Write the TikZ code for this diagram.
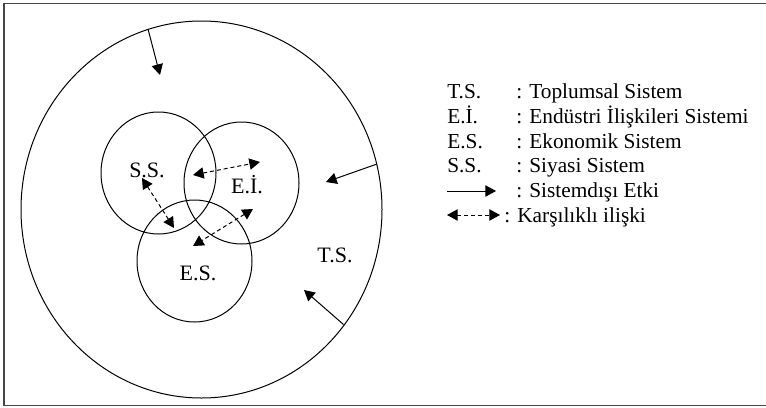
\documentclass[tikz,border=0pt]{standalone}
\usepackage{fontspec}
\setmainfont{Liberation Serif}
\usetikzlibrary{arrows.meta}

\tikzset{
  etki/.style={-{Triangle[length=8pt,width=8.5pt]}, line width=0.75pt},
  iliski/.style={{Triangle[length=8pt,width=8.5pt]}-{Triangle[length=8pt,width=8.5pt]}, dash pattern={on 3pt off 2.2pt}, line width=0.75pt},
  etiket/.style={font=\fontsize{16.5}{18}\selectfont, inner sep=0.75pt},
  aciklama/.style={font=\fontsize{16}{18}\selectfont, anchor=base west, inner sep=0pt},
}

\begin{document}
\begin{tikzpicture}[x=0.75pt,y=0.75pt,yscale=-1,xscale=1]
\useasboundingbox (0,0) rectangle (766,407);

%Shape: Frame
\draw [color={rgb, 255:red, 70; green, 70; blue, 70 }, line width=1.1pt] (4,3.5) rectangle (768,405.5) ;
%Shape: Circle (T.S.)
\draw [line width=0.75pt] (201.5,209.5) ellipse [x radius=180.5, y radius=188.5] ;
%Shape: Circle (S.S.)
\draw [line width=0.75pt] (158.5,173) ellipse [x radius=57.5, y radius=61] ;
%Shape: Circle (E.I.)
\draw [line width=0.75pt] (241.5,183) ellipse [x radius=57.5, y radius=61] ;
%Shape: Circle (E.S.)
\draw [line width=0.75pt] (194.5,261) ellipse [x radius=57.5, y radius=61] ;

% Text Node
\draw (147,170) node [etiket] (ss) {S.S.};
% Text Node
\draw (247,185) node [etiket] (ei) {E.İ.};
% Text Node
\draw (198,273) node [etiket] (es) {E.S.};
% Text Node
\draw (335,255) node [etiket] (ts) {T.S.};

%Straight Lines (outside effects)
\coordinate (ust1) at (148,29) ;
\coordinate (ust2) at (160,75) ;
\coordinate (sag1) at (377,164) ;
\coordinate (sag2) at (326,182) ;
\coordinate (alt1) at (343.5,324.5) ;
\coordinate (alt2) at (304,290) ;
\draw [etki] (ust1) -- (ust2) ;
\draw [etki] (sag1) -- (sag2) ;
\draw [etki] (alt1) -- (alt2) ;

%Dashed Lines (mutual relations)
\coordinate (ss-ei) at (193,175) ;
\coordinate (ei-ss) at (260,162) ;
\coordinate (ss-es) at (142,178) ;
\coordinate (es-ss) at (174,228) ;
\coordinate (ei-es) at (253,209) ;
\coordinate (es-ei) at (193,246) ;
\draw [iliski] (ss-ei) -- (ei-ss) ;
\draw [iliski] (ss-es) -- (es-ss) ;
\draw [iliski] (ei-es) -- (es-ei) ;

% Legend
\draw (447,98) node [aciklama] (k1) {T.S.};
\draw (516,98) node [aciklama] (a1) {: Toplumsal Sistem};
\draw (447,123) node [aciklama] (k2) {E.İ.};
\draw (516,123) node [aciklama] (a2) {: Endüstri İlişkileri Sistemi};
\draw (447,148) node [aciklama] (k3) {E.S.};
\draw (516,148) node [aciklama] (a3) {: Ekonomik Sistem};
\draw (447,172) node [aciklama] (k4) {S.S.};
\draw (516,172) node [aciklama] (a4) {: Siyasi Sistem};
\coordinate (l1a) at (447,191) ;
\coordinate (l1b) at (496,191) ;
\draw [etki] (l1a) -- (l1b) ;
\draw (516,197) node [aciklama] (a5) {: Sistemdışı Etki};
\coordinate (l2a) at (447,215) ;
\coordinate (l2b) at (500,215) ;
\draw [iliski] (l2a) -- (l2b) ;
\draw (504,222) node [aciklama] (a6) {: Karşılıklı ilişki};

\end{tikzpicture}
\end{document}
